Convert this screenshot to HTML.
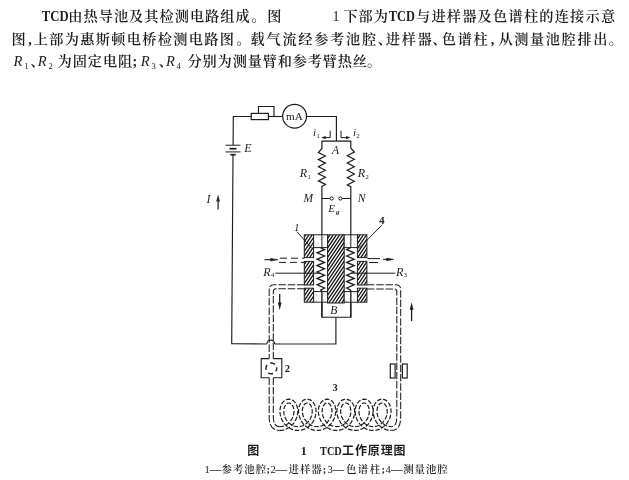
<!DOCTYPE html>
<html lang="zh-CN">
<head>
<meta charset="utf-8">
<title>TCD工作原理图</title>
<style>
html,body{margin:0;padding:0;background:#fff;}
body{width:629px;height:480px;overflow:hidden;position:relative;}
svg{position:absolute;left:0;top:0;display:block;filter:blur(0.45px);}
</style>
</head>
<body>
<svg width="629" height="480" viewBox="0 0 629 480">
<rect width="629" height="480" fill="#ffffff"/>
<g class="txt" fill="#1c1c1c">
<text x="41.8" y="21.0" font-size="13.6" font-family='"Liberation Serif", "Noto Serif CJK SC", serif' font-weight="700" textLength="26.8" lengthAdjust="spacingAndGlyphs">TCD</text>
<text y="21.0" x="68.3 83.5 98.7 113.9 129.1 144.3 159.5 174.7 189.9 205.1 220.3 235.5" font-size="14.2" font-family='"Liberation Serif", "Noto Serif CJK SC", serif' font-weight="600">由热导池及其检测电路组成</text>
<text y="21.0" x="251.6" font-size="14.2" font-family='"Liberation Serif", "Noto Serif CJK SC", serif' font-weight="600">。</text>
<text y="21.0" x="267.2" font-size="14.2" font-family='"Liberation Serif", "Noto Serif CJK SC", serif' font-weight="600">图</text>
<text x="332.6" y="21.0" font-size="14" font-family='"Liberation Serif", "Noto Serif CJK SC", serif' font-weight="400">1</text>
<text y="21.0" x="343.4 358.6 373.8" font-size="14.2" font-family='"Liberation Serif", "Noto Serif CJK SC", serif' font-weight="600">下部为</text>
<text x="388.8" y="21.0" font-size="13.6" font-family='"Liberation Serif", "Noto Serif CJK SC", serif' font-weight="700" textLength="26.2" lengthAdjust="spacingAndGlyphs">TCD</text>
<text y="21.0" x="416.0 431.4 446.8 462.2 477.6 493.1 508.5 523.9 539.3 554.7 570.1 585.5 600.9" font-size="14.2" font-family='"Liberation Serif", "Noto Serif CJK SC", serif' font-weight="600">与进样器及色谱柱的连接示意</text>
<text y="44.0" x="11.5" font-size="14.2" font-family='"Liberation Serif", "Noto Serif CJK SC", serif' font-weight="600">图</text>
<text y="44.0" x="28.2" font-size="14.2" font-family='"Liberation Serif", "Noto Serif CJK SC", serif' font-weight="600">,</text>
<text y="44.0" x="33.8 49.3 64.8 80.3 95.8 111.3 126.8 142.3 157.8 173.3 188.8 204.3 219.8" font-size="14.2" font-family='"Liberation Serif", "Noto Serif CJK SC", serif' font-weight="600">上部为惠斯顿电桥检测电路图</text>
<text y="44.0" x="236.4" font-size="14.2" font-family='"Liberation Serif", "Noto Serif CJK SC", serif' font-weight="600">。</text>
<text y="44.0" x="250.6 266.5 282.4 298.3 314.2 330.1 346.0 361.9" font-size="14.2" font-family='"Liberation Serif", "Noto Serif CJK SC", serif' font-weight="600">载气流经参考池腔</text>
<text y="44.0" x="377.8" font-size="14.2" font-family='"Liberation Serif", "Noto Serif CJK SC", serif' font-weight="600">、</text>
<text y="44.0" x="385.8 401.7 417.6" font-size="14.2" font-family='"Liberation Serif", "Noto Serif CJK SC", serif' font-weight="600">进样器</text>
<text y="44.0" x="432.4" font-size="14.2" font-family='"Liberation Serif", "Noto Serif CJK SC", serif' font-weight="600">、</text>
<text y="44.0" x="441.8 457.7 473.6" font-size="14.2" font-family='"Liberation Serif", "Noto Serif CJK SC", serif' font-weight="600">色谱柱</text>
<text y="44.0" x="490.8" font-size="14.2" font-family='"Liberation Serif", "Noto Serif CJK SC", serif' font-weight="600">,</text>
<text y="44.0" x="498.4 514.2 530.0 545.8 561.6 577.4 593.2" font-size="14.2" font-family='"Liberation Serif", "Noto Serif CJK SC", serif' font-weight="600">从测量池腔排出</text>
<text y="44.0" x="608.8" font-size="14.2" font-family='"Liberation Serif", "Noto Serif CJK SC", serif' font-weight="600">。</text>
</g>
<g class="dia" stroke="#1e1e1e" fill="none" stroke-linecap="butt" stroke-linejoin="miter">
<polyline points="251.2,116.5 233.3,116.5 233.1,145.0" stroke-width="1.15" fill="none" />
<line x1="225.5" y1="145.2" x2="240.5" y2="145.2" stroke-width="1.0" />
<line x1="229.5" y1="148.7" x2="236.5" y2="148.7" stroke-width="1.7" />
<line x1="225.5" y1="151.9" x2="240.5" y2="151.9" stroke-width="1.0" />
<line x1="230.3" y1="154.7" x2="235.7" y2="154.7" stroke-width="1.7" />
<polyline points="233.0,154.7 231.7,343.6 266.9,344.0" stroke-width="1.15" fill="none" />
<path d="M266.9 344.0 A3.9 3.9 0 0 1 274.7 344.0" stroke-width="1.15"/>
<polyline points="274.7,344.0 335.9,344.0 335.9,317.2" stroke-width="1.15" fill="none" />
<rect x="251.2" y="113.4" width="17.2" height="6.2" stroke-width="1.2" fill="#fff"/>
<polyline points="258.5,113.2 258.5,106.5 274.0,106.5 274.0,116.5" stroke-width="1.15" fill="none" />
<line x1="268.4" y1="116.5" x2="282.5" y2="116.5" stroke-width="1.15" />
<circle cx="294.6" cy="116.2" r="11.9" stroke-width="1.2"/>
<polyline points="306.6,116.5 336.4,116.5 336.4,141.1" stroke-width="1.15" fill="none" />
<line x1="321.7" y1="141.1" x2="351.2" y2="141.1" stroke-width="1.3" />
<polyline points="330.2,130.8 330.2,137.6 323.5,137.6" stroke-width="1.0" fill="none" />
<path d="M321.3 137.6 L325.6 136 L325.6 139.2 Z" fill="#1e1e1e" stroke="none"/>
<polyline points="341.0,130.8 341.0,137.6 348.0,137.6" stroke-width="1.0" fill="none" />
<path d="M350.4 137.6 L346.1 136 L346.1 139.2 Z" fill="#1e1e1e" stroke="none"/>
<polyline points="321.9,141.1 321.9,148.5 318.4,152.5 325.4,156.0 318.4,159.6 325.4,163.1 318.4,166.7 325.4,170.2 318.4,173.8 325.4,177.3 318.4,180.9 325.4,184.4 321.9,186.4 321.9,248.0" stroke-width="1.2" fill="none" />
<polyline points="350.8,141.1 350.8,148.0 354.3,152.0 347.3,155.7 354.3,159.3 347.3,163.0 354.3,166.7 347.3,170.3 354.3,174.0 347.3,177.7 354.3,181.3 347.3,185.0 350.8,186.6 350.8,248.0" stroke-width="1.2" fill="none" />
<line x1="321.9" y1="198.5" x2="330.0" y2="198.5" stroke-width="1.0" />
<circle cx="331.7" cy="198.5" r="1.6" stroke-width="1.0"/>
<circle cx="340.4" cy="198.5" r="1.6" stroke-width="1.0"/>
<line x1="342.0" y1="198.5" x2="350.8" y2="198.5" stroke-width="1.0" />
<clipPath id="c1"><rect x="304.3" y="234.8" width="9.3" height="22.8"/></clipPath>
<rect x="304.3" y="234.8" width="9.3" height="22.8" fill="#fff" stroke="none"/>
<path d="M287.20 257.60L302.58 234.80M290.40 257.60L305.78 234.80M293.60 257.60L308.98 234.80M296.80 257.60L312.18 234.80M300.00 257.60L315.38 234.80M303.20 257.60L318.58 234.80M306.40 257.60L321.78 234.80M309.60 257.60L324.98 234.80M312.80 257.60L328.18 234.80" stroke="#151515" stroke-width="1.3" clip-path="url(#c1)"/>
<rect x="304.3" y="234.8" width="9.3" height="22.8" stroke-width="1.0"/>
<clipPath id="c2"><rect x="357.4" y="234.8" width="9.5" height="22.8"/></clipPath>
<rect x="357.4" y="234.8" width="9.5" height="22.8" fill="#fff" stroke="none"/>
<path d="M341.60 257.60L356.98 234.80M344.80 257.60L360.18 234.80M348.00 257.60L363.38 234.80M351.20 257.60L366.58 234.80M354.40 257.60L369.78 234.80M357.60 257.60L372.98 234.80M360.80 257.60L376.18 234.80M364.00 257.60L379.38 234.80" stroke="#151515" stroke-width="1.3" clip-path="url(#c2)"/>
<rect x="357.4" y="234.8" width="9.5" height="22.8" stroke-width="1.0"/>
<clipPath id="c3"><rect x="304.3" y="261.4" width="9.3" height="23.6"/></clipPath>
<rect x="304.3" y="261.4" width="9.3" height="23.6" fill="#fff" stroke="none"/>
<path d="M287.20 285.00L303.12 261.40M290.40 285.00L306.32 261.40M293.60 285.00L309.52 261.40M296.80 285.00L312.72 261.40M300.00 285.00L315.92 261.40M303.20 285.00L319.12 261.40M306.40 285.00L322.32 261.40M309.60 285.00L325.52 261.40M312.80 285.00L328.72 261.40" stroke="#151515" stroke-width="1.3" clip-path="url(#c3)"/>
<rect x="304.3" y="261.4" width="9.3" height="23.6" stroke-width="1.0"/>
<clipPath id="c4"><rect x="357.4" y="261.4" width="9.5" height="23.6"/></clipPath>
<rect x="357.4" y="261.4" width="9.5" height="23.6" fill="#fff" stroke="none"/>
<path d="M338.40 285.00L354.32 261.40M341.60 285.00L357.52 261.40M344.80 285.00L360.72 261.40M348.00 285.00L363.92 261.40M351.20 285.00L367.12 261.40M354.40 285.00L370.32 261.40M357.60 285.00L373.52 261.40M360.80 285.00L376.72 261.40M364.00 285.00L379.92 261.40" stroke="#151515" stroke-width="1.3" clip-path="url(#c4)"/>
<rect x="357.4" y="261.4" width="9.5" height="23.6" stroke-width="1.0"/>
<clipPath id="c5"><rect x="304.3" y="288.2" width="9.3" height="14.0"/></clipPath>
<rect x="304.3" y="288.2" width="9.3" height="14.0" fill="#fff" stroke="none"/>
<path d="M293.60 302.20L303.04 288.20M296.80 302.20L306.24 288.20M300.00 302.20L309.44 288.20M303.20 302.20L312.64 288.20M306.40 302.20L315.84 288.20M309.60 302.20L319.04 288.20M312.80 302.20L322.24 288.20" stroke="#151515" stroke-width="1.3" clip-path="url(#c5)"/>
<rect x="304.3" y="288.2" width="9.3" height="14.0" stroke-width="1.0"/>
<clipPath id="c6"><rect x="357.4" y="288.2" width="9.5" height="14.0"/></clipPath>
<rect x="357.4" y="288.2" width="9.5" height="14.0" fill="#fff" stroke="none"/>
<path d="M344.80 302.20L354.24 288.20M348.00 302.20L357.44 288.20M351.20 302.20L360.64 288.20M354.40 302.20L363.84 288.20M357.60 302.20L367.04 288.20M360.80 302.20L370.24 288.20M364.00 302.20L373.44 288.20" stroke="#151515" stroke-width="1.3" clip-path="url(#c6)"/>
<rect x="357.4" y="288.2" width="9.5" height="14.0" stroke-width="1.0"/>
<clipPath id="c7"><rect x="327.6" y="234.8" width="16.6" height="68.2"/></clipPath>
<rect x="327.6" y="234.8" width="16.6" height="68.2" fill="#fff" stroke="none"/>
<path d="M280.80 303.00L326.80 234.80M284.00 303.00L330.00 234.80M287.20 303.00L333.20 234.80M290.40 303.00L336.40 234.80M293.60 303.00L339.60 234.80M296.80 303.00L342.80 234.80M300.00 303.00L346.00 234.80M303.20 303.00L349.20 234.80M306.40 303.00L352.40 234.80M309.60 303.00L355.60 234.80M312.80 303.00L358.80 234.80M316.00 303.00L362.00 234.80M319.20 303.00L365.20 234.80M322.40 303.00L368.40 234.80M325.60 303.00L371.60 234.80M328.80 303.00L374.80 234.80M332.00 303.00L378.00 234.80M335.20 303.00L381.20 234.80M338.40 303.00L384.40 234.80M341.60 303.00L387.60 234.80" stroke="#151515" stroke-width="1.3" clip-path="url(#c7)"/>
<rect x="327.6" y="234.8" width="16.6" height="68.2" stroke-width="1.0"/>
<rect x="313.6" y="234.8" width="14.0" height="12.8" fill="#fff" stroke-width="1.0"/>
<rect x="313.6" y="291.6" width="14.0" height="10.6" fill="#fff" stroke-width="1.0"/>
<circle cx="316.6" cy="237.8" r="0.45" fill="#777" stroke="none"/>
<circle cx="316.6" cy="294.2" r="0.45" fill="#777" stroke="none"/>
<circle cx="321.1" cy="239.8" r="0.45" fill="#777" stroke="none"/>
<circle cx="321.1" cy="295.9" r="0.45" fill="#777" stroke="none"/>
<circle cx="324.1" cy="237.3" r="0.45" fill="#777" stroke="none"/>
<circle cx="324.1" cy="293.7" r="0.45" fill="#777" stroke="none"/>
<circle cx="318.6" cy="243.3" r="0.45" fill="#777" stroke="none"/>
<circle cx="318.6" cy="298.8" r="0.45" fill="#777" stroke="none"/>
<circle cx="323.6" cy="244.3" r="0.45" fill="#777" stroke="none"/>
<circle cx="323.6" cy="299.7" r="0.45" fill="#777" stroke="none"/>
<circle cx="316.1" cy="245.3" r="0.45" fill="#777" stroke="none"/>
<circle cx="316.1" cy="300.5" r="0.45" fill="#777" stroke="none"/>
<rect x="344.2" y="234.8" width="13.2" height="12.8" fill="#fff" stroke-width="1.0"/>
<rect x="344.2" y="291.6" width="13.2" height="10.6" fill="#fff" stroke-width="1.0"/>
<circle cx="347.2" cy="237.8" r="0.45" fill="#777" stroke="none"/>
<circle cx="347.2" cy="294.2" r="0.45" fill="#777" stroke="none"/>
<circle cx="351.7" cy="239.8" r="0.45" fill="#777" stroke="none"/>
<circle cx="351.7" cy="295.9" r="0.45" fill="#777" stroke="none"/>
<circle cx="354.7" cy="237.3" r="0.45" fill="#777" stroke="none"/>
<circle cx="354.7" cy="293.7" r="0.45" fill="#777" stroke="none"/>
<circle cx="349.2" cy="243.3" r="0.45" fill="#777" stroke="none"/>
<circle cx="349.2" cy="298.8" r="0.45" fill="#777" stroke="none"/>
<circle cx="354.2" cy="244.3" r="0.45" fill="#777" stroke="none"/>
<circle cx="354.2" cy="299.7" r="0.45" fill="#777" stroke="none"/>
<circle cx="346.7" cy="245.3" r="0.45" fill="#777" stroke="none"/>
<circle cx="346.7" cy="300.5" r="0.45" fill="#777" stroke="none"/>
<line x1="321.9" y1="234.0" x2="321.9" y2="248.0" stroke-width="1.0" />
<line x1="350.8" y1="234.0" x2="350.8" y2="248.0" stroke-width="1.0" />
<polyline points="320.8,247.6 324.5,249.6 317.1,252.8 324.5,256.0 317.1,259.2 324.5,262.4 317.1,265.6 324.5,268.8 317.1,272.0 324.5,275.2 317.1,278.4 324.5,281.6 317.1,284.8 324.5,288.0 320.8,290.0 321.9,291.6 321.9,317.2" stroke-width="1.35" fill="none" />
<polyline points="350.4,247.6 346.7,249.6 354.1,252.8 346.7,256.0 354.1,259.2 346.7,262.4 354.1,265.6 346.7,268.8 354.1,272.0 346.7,275.2 354.1,278.4 346.7,281.6 354.1,284.8 346.7,288.0 350.4,290.0 350.8,291.6 350.8,317.2" stroke-width="1.35" fill="none" />
<polyline points="321.9,302.2 321.9,317.2 350.8,317.2 350.8,302.2" stroke-width="1.15" fill="none" />
<line x1="296.9" y1="231.7" x2="312.0" y2="248.6" stroke-width="1.0" />
<line x1="381.7" y1="225.3" x2="358.8" y2="248.6" stroke-width="1.0" />
<line x1="275.4" y1="273.2" x2="320.5" y2="273.2" stroke-width="1.0" />
<line x1="351.0" y1="273.2" x2="395.2" y2="273.2" stroke-width="1.0" />
<line x1="280.0" y1="258.2" x2="304.3" y2="258.2" stroke-width="1.0" stroke-dasharray="7 4"/>
<line x1="279.0" y1="262.4" x2="304.3" y2="262.4" stroke-width="1.0" stroke-dasharray="7 4"/>
<line x1="264.4" y1="259.7" x2="272.0" y2="259.7" stroke-width="1.1" />
<path d="M278.0 259.7 L270.6 258.4 L270.6 261.0 Z" fill="#1e1e1e" stroke="#1e1e1e" stroke-width="0.6" stroke-linejoin="round"/>
<line x1="367.5" y1="258.6" x2="381.0" y2="258.6" stroke-width="1.0" stroke-dasharray="12.5 4"/>
<line x1="369.0" y1="262.5" x2="378.0" y2="262.5" stroke-width="1.0" />
<line x1="383.0" y1="259.4" x2="388.0" y2="259.4" stroke-width="1.1" />
<path d="M393.6 259.4 L386.6 258.1 L386.6 260.7 Z" fill="#1e1e1e" stroke="#1e1e1e" stroke-width="0.6" stroke-linejoin="round"/>
<path d="M304.5 284.8 H274 Q269.2 284.8 269.2 290 V358.6" stroke-width="1.05" stroke-dasharray="7.5 1.8"/>
<path d="M304.5 288.8 H276 Q273.3 288.8 273.3 292 V358.6" stroke-width="1.05" stroke-dasharray="7.5 1.8"/>
<path d="M366.9 284.8 H396 Q400.7 284.8 400.7 290 V418 Q400.5 430.4 391.3 430.4" stroke-width="1.05" stroke-dasharray="7.5 1.8"/>
<path d="M366.9 289.0 H394.5 Q396.8 289.0 396.8 292 V417 Q396.7 426.6 391.3 426.6" stroke-width="1.05" stroke-dasharray="7.5 1.8"/>
<line x1="279.7" y1="294.0" x2="279.7" y2="304.0" stroke-width="1.3" />
<path d="M279.7 310 L277.8 302.6 L281.6 302.6 Z" fill="#1e1e1e" stroke="none"/>
<line x1="411.6" y1="308.0" x2="411.6" y2="321.0" stroke-width="1.3" />
<path d="M411.6 302.4 L409.7 309.8 L413.5 309.8 Z" fill="#1e1e1e" stroke="none"/>
<polyline points="269.2,358.6 261.2,358.6 261.2,377.7 269.2,377.7" stroke-width="1.1" fill="none" />
<polyline points="273.3,358.6 281.8,358.6 281.8,377.7 273.3,377.7" stroke-width="1.1" fill="none" />
<circle cx="271.3" cy="368.4" r="5.4" stroke-width="1.4" stroke-dasharray="5.2 3.3" stroke-dashoffset="2"/>
<path d="M269.2 377.7 V418 Q269.4 430.4 279.7 430.4" stroke-width="1.05" stroke-dasharray="7.5 1.8"/>
<path d="M273.3 377.7 V417 Q273.4 426.6 279.7 426.6" stroke-width="1.05" stroke-dasharray="7.5 1.8"/>
<path d="M279.7 430.4L281.4 430.3L283.0 430.1L284.6 429.6L286.2 429.1L287.7 428.3L289.2 427.5L290.5 426.5L291.8 425.3L293.0 424.1L294.0 422.8L294.9 421.3L295.7 419.9L296.4 418.3L297.0 416.8L297.4 415.2L297.6 413.6L297.8 412.0L297.8 410.5L297.6 409.0L297.4 407.5L297.0 406.2L296.5 404.9L295.9 403.7L295.2 402.6L294.3 401.6L293.4 400.8L292.4 400.1L291.3 399.6L290.1 399.3L288.9 399.2L287.7 399.3L286.5 399.6L285.4 400.1L284.4 400.8L283.5 401.6L282.6 402.6L281.9 403.7L281.3 404.9L280.8 406.1L280.4 407.5L280.1 409.0L280.0 410.5L280.0 412.0L280.1 413.6L280.4 415.2L280.8 416.8L281.3 418.3L282.0 419.9L282.8 421.3L283.7 422.8L284.8 424.1L285.9 425.3L287.2 426.5L288.5 427.5L290.0 428.3L291.5 429.1L293.1 429.6L294.7 430.1L296.3 430.3L298.0 430.4L299.7 430.3L301.3 430.1L302.9 429.6L304.5 429.1L306.0 428.3L307.5 427.5L308.8 426.5L310.1 425.3L311.2 424.1L312.3 422.8L313.2 421.3L314.0 419.9L314.7 418.3L315.2 416.8L315.6 415.2L315.9 413.6L316.0 412.0L316.0 410.5L315.9 409.0L315.6 407.5L315.2 406.1L314.7 404.9L314.1 403.7L313.4 402.6L312.5 401.6L311.6 400.8L310.6 400.1L309.5 399.6L308.3 399.3L307.1 399.2L305.9 399.3L304.8 399.6L303.7 400.1L302.7 400.8L301.8 401.6L301.0 402.6L300.3 403.7L299.7 404.9L299.2 406.2L298.9 407.6L298.7 409.0L298.6 410.5L298.6 412.1L298.8 413.6L299.1 415.2L299.5 416.8L300.1 418.4L300.8 419.9L301.6 421.4L302.6 422.8L303.6 424.1L304.8 425.3L306.1 426.5L307.5 427.5L309.0 428.3L310.5 429.1L312.1 429.6L313.8 430.1L315.5 430.3L317.1 430.4L318.8 430.3L320.5 430.1L322.2 429.6L323.8 429.1L325.3 428.3L326.8 427.5L328.2 426.5L329.5 425.3L330.7 424.1L331.7 422.8L332.7 421.4L333.5 419.9L334.2 418.4L334.8 416.8L335.2 415.2L335.5 413.6L335.7 412.1L335.7 410.5L335.6 409.0L335.4 407.6L335.1 406.2L334.6 404.9L334.0 403.7L333.3 402.6L332.5 401.6L331.6 400.8L330.6 400.1L329.5 399.6L328.4 399.3L327.2 399.2L326.0 399.3L324.9 399.6L323.8 400.1L322.7 400.8L321.8 401.6L321.0 402.6L320.2 403.7L319.6 404.9L319.1 406.2L318.7 407.5L318.5 409.0L318.4 410.5L318.4 412.0L318.5 413.6L318.8 415.2L319.2 416.8L319.7 418.3L320.4 419.9L321.2 421.4L322.2 422.8L323.2 424.1L324.4 425.3L325.6 426.5L327.0 427.5L328.4 428.3L330.0 429.1L331.5 429.6L333.2 430.1L334.8 430.3L336.5 430.4L338.2 430.3L339.8 430.1L341.5 429.6L343.0 429.1L344.6 428.3L346.0 427.5L347.4 426.5L348.6 425.3L349.8 424.1L350.8 422.8L351.8 421.4L352.6 419.9L353.3 418.3L353.8 416.8L354.2 415.2L354.5 413.6L354.6 412.0L354.6 410.5L354.5 409.0L354.3 407.5L353.9 406.2L353.4 404.9L352.8 403.7L352.0 402.6L351.2 401.6L350.3 400.8L349.2 400.1L348.1 399.6L347.0 399.3L345.8 399.2L344.6 399.3L343.4 399.6L342.3 400.1L341.3 400.8L340.4 401.6L339.5 402.6L338.8 403.7L338.2 404.9L337.7 406.2L337.3 407.5L337.1 409.0L336.9 410.5L336.9 412.0L337.1 413.6L337.3 415.2L337.7 416.8L338.3 418.3L339.0 419.9L339.8 421.3L340.7 422.8L341.7 424.1L342.9 425.3L344.2 426.5L345.5 427.5L347.0 428.3L348.5 429.1L350.1 429.6L351.7 430.1L353.3 430.3L355.0 430.4L356.7 430.3L358.3 430.1L359.9 429.6L361.5 429.1L363.0 428.3L364.5 427.5L365.8 426.5L367.1 425.3L368.3 424.1L369.3 422.8L370.2 421.3L371.0 419.9L371.7 418.3L372.3 416.8L372.7 415.2L372.9 413.6L373.1 412.0L373.1 410.5L372.9 409.0L372.7 407.5L372.3 406.2L371.8 404.9L371.2 403.7L370.5 402.6L369.6 401.6L368.7 400.8L367.7 400.1L366.6 399.6L365.4 399.3L364.2 399.2L363.0 399.3L361.8 399.6L360.7 400.1L359.7 400.8L358.7 401.6L357.9 402.6L357.2 403.6L356.5 404.8L356.0 406.1L355.6 407.5L355.3 409.0L355.2 410.5L355.2 412.0L355.3 413.6L355.6 415.2L356.0 416.8L356.5 418.3L357.2 419.9L358.0 421.3L358.9 422.8L359.9 424.1L361.1 425.3L362.3 426.4L363.7 427.5L365.1 428.3L366.6 429.1L368.2 429.6L369.8 430.1L371.4 430.3L373.1 430.4L374.8 430.3L376.4 430.1L378.0 429.6L379.6 429.1L381.1 428.3L382.5 427.5L383.9 426.4L385.1 425.3L386.3 424.1L387.3 422.8L388.2 421.3L389.0 419.9L389.7 418.3L390.2 416.8L390.6 415.2L390.9 413.6L391.0 412.0L391.0 410.5L390.9 409.0L390.6 407.5L390.2 406.1L389.7 404.8L389.0 403.6L388.3 402.6L387.5 401.6L386.5 400.8L385.5 400.1L384.4 399.6L383.2 399.3L382.0 399.2L380.8 399.3L379.7 399.6L378.6 400.1L377.5 400.8L376.6 401.6L375.8 402.6L375.0 403.7L374.4 404.9L373.9 406.2L373.5 407.5L373.3 409.0L373.2 410.5L373.2 412.0L373.3 413.6L373.6 415.2L374.0 416.8L374.5 418.3L375.2 419.9L376.0 421.4L377.0 422.8L378.0 424.1L379.2 425.3L380.4 426.5L381.8 427.5L383.2 428.3L384.8 429.1L386.3 429.6L388.0 430.1L389.6 430.3L391.3 430.4" stroke-width="1.2" stroke-dasharray="4.6 1.7"/>
<path d="M279.7 426.6L281.0 426.5L282.3 426.3L283.5 426.0L284.7 425.6L285.9 425.0L287.1 424.3L288.1 423.5L289.1 422.6L290.1 421.6L290.9 420.5L291.7 419.4L292.3 418.2L292.9 417.0L293.3 415.7L293.6 414.4L293.9 413.1L294.0 411.9L294.0 410.6L293.9 409.5L293.7 408.4L293.4 407.3L293.0 406.4L292.6 405.6L292.1 404.9L291.6 404.3L291.1 403.8L290.5 403.4L290.0 403.2L289.4 403.0L288.9 403.0L288.4 403.0L287.8 403.2L287.3 403.4L286.7 403.8L286.2 404.3L285.6 404.9L285.2 405.6L284.7 406.4L284.4 407.3L284.1 408.4L283.9 409.5L283.8 410.6L283.8 411.9L283.9 413.1L284.1 414.4L284.4 415.7L284.9 417.0L285.4 418.2L286.1 419.4L286.8 420.5L287.7 421.6L288.6 422.6L289.6 423.5L290.7 424.3L291.8 425.0L293.0 425.6L294.2 426.0L295.4 426.3L296.7 426.5L298.0 426.6L299.3 426.5L300.6 426.3L301.8 426.0L303.0 425.6L304.2 425.0L305.3 424.3L306.4 423.5L307.4 422.6L308.3 421.6L309.2 420.5L309.9 419.4L310.6 418.2L311.1 417.0L311.6 415.7L311.9 414.4L312.1 413.1L312.2 411.9L312.2 410.6L312.1 409.5L311.9 408.4L311.6 407.3L311.3 406.4L310.8 405.6L310.4 404.9L309.8 404.3L309.3 403.8L308.7 403.4L308.2 403.2L307.6 403.0L307.1 403.0L306.6 403.0L306.1 403.2L305.6 403.4L305.1 403.8L304.6 404.2L304.1 404.8L303.6 405.5L303.2 406.4L302.9 407.3L302.6 408.3L302.4 409.4L302.4 410.6L302.4 411.8L302.5 413.1L302.8 414.4L303.1 415.7L303.6 416.9L304.2 418.2L304.8 419.4L305.6 420.5L306.5 421.6L307.5 422.6L308.5 423.5L309.6 424.3L310.8 425.0L312.0 425.6L313.2 426.0L314.5 426.3L315.8 426.5L317.1 426.6L318.5 426.5L319.8 426.3L321.1 426.0L322.3 425.6L323.5 425.0L324.7 424.3L325.8 423.5L326.8 422.6L327.8 421.6L328.7 420.5L329.5 419.4L330.1 418.2L330.7 416.9L331.2 415.7L331.5 414.4L331.8 413.1L331.9 411.8L331.9 410.6L331.9 409.4L331.7 408.3L331.4 407.3L331.1 406.4L330.7 405.5L330.2 404.8L329.7 404.2L329.2 403.8L328.7 403.4L328.2 403.2L327.7 403.0L327.2 403.0L326.7 403.0L326.1 403.2L325.6 403.4L325.0 403.8L324.5 404.3L324.0 404.9L323.5 405.6L323.1 406.4L322.7 407.3L322.5 408.4L322.3 409.5L322.2 410.6L322.2 411.9L322.3 413.1L322.5 414.4L322.8 415.7L323.3 417.0L323.8 418.2L324.5 419.4L325.2 420.5L326.1 421.6L327.0 422.6L328.0 423.5L329.1 424.3L330.3 425.0L331.4 425.6L332.7 426.0L333.9 426.3L335.2 426.5L336.5 426.6L337.8 426.5L339.1 426.3L340.3 426.0L341.6 425.6L342.7 425.0L343.9 424.3L345.0 423.5L346.0 422.6L346.9 421.6L347.8 420.5L348.5 419.4L349.2 418.2L349.7 417.0L350.2 415.7L350.5 414.4L350.7 413.1L350.8 411.9L350.8 410.6L350.7 409.5L350.5 408.4L350.3 407.3L349.9 406.4L349.5 405.6L349.0 404.9L348.5 404.3L348.0 403.8L347.4 403.4L346.9 403.2L346.3 403.0L345.8 403.0L345.3 403.0L344.7 403.2L344.2 403.4L343.6 403.8L343.1 404.3L342.6 404.9L342.1 405.6L341.7 406.4L341.3 407.3L341.0 408.4L340.8 409.5L340.7 410.6L340.7 411.9L340.8 413.1L341.1 414.4L341.4 415.7L341.8 417.0L342.4 418.2L343.0 419.4L343.8 420.5L344.6 421.6L345.6 422.6L346.6 423.5L347.6 424.3L348.8 425.0L350.0 425.6L351.2 426.0L352.4 426.3L353.7 426.5L355.0 426.6L356.3 426.5L357.6 426.3L358.8 426.0L360.0 425.6L361.2 425.0L362.4 424.3L363.4 423.5L364.4 422.6L365.4 421.6L366.2 420.5L367.0 419.4L367.6 418.2L368.2 417.0L368.6 415.7L368.9 414.4L369.2 413.1L369.3 411.9L369.3 410.6L369.2 409.5L369.0 408.4L368.7 407.3L368.3 406.4L367.9 405.6L367.4 404.9L366.9 404.3L366.4 403.8L365.8 403.4L365.3 403.2L364.7 403.0L364.2 403.0L363.6 403.0L363.1 403.2L362.5 403.4L362.0 403.8L361.4 404.3L360.9 404.9L360.4 405.6L360.0 406.4L359.6 407.4L359.3 408.4L359.1 409.5L359.0 410.7L359.0 411.9L359.1 413.1L359.3 414.4L359.6 415.7L360.1 417.0L360.6 418.2L361.2 419.4L362.0 420.5L362.8 421.6L363.7 422.6L364.7 423.5L365.8 424.3L366.9 425.0L368.1 425.6L369.3 426.0L370.6 426.3L371.8 426.5L373.1 426.6L374.4 426.5L375.6 426.3L376.9 426.0L378.1 425.6L379.3 425.0L380.4 424.3L381.5 423.5L382.5 422.6L383.4 421.6L384.2 420.5L385.0 419.4L385.6 418.2L386.1 417.0L386.6 415.7L386.9 414.4L387.1 413.1L387.2 411.9L387.2 410.7L387.1 409.5L386.9 408.4L386.6 407.4L386.2 406.4L385.8 405.6L385.3 404.9L384.8 404.3L384.2 403.8L383.7 403.4L383.1 403.2L382.6 403.0L382.0 403.0L381.5 403.0L380.9 403.2L380.4 403.4L379.8 403.8L379.3 404.3L378.8 404.9L378.3 405.6L377.9 406.4L377.5 407.3L377.3 408.4L377.1 409.5L377.0 410.6L377.0 411.9L377.1 413.1L377.3 414.4L377.6 415.7L378.1 417.0L378.6 418.2L379.3 419.4L380.0 420.5L380.9 421.6L381.8 422.6L382.8 423.5L383.9 424.3L385.1 425.0L386.2 425.6L387.5 426.0L388.7 426.3L390.0 426.5L391.3 426.6" stroke-width="1.2" stroke-dasharray="4.6 1.7"/>
<rect x="390.3" y="364" width="4.8" height="14" stroke-width="1.2" fill="#fff"/>
<rect x="402.4" y="364" width="4.8" height="14" stroke-width="1.2" fill="#fff"/>
</g>
<g class="lbl" fill="#222">
<text x="294.4" y="120.0" font-size="11.2" font-family='"Liberation Serif", "Noto Serif CJK SC", serif' font-weight="400" text-anchor="middle"  >mA</text>
<text x="244.3" y="151.6" font-size="12" font-family='"Liberation Serif", "Noto Serif CJK SC", serif' font-weight="400" text-anchor="start" font-style="italic" >E</text>
<text x="206.5" y="203.0" font-size="12" font-family='"Liberation Serif", "Noto Serif CJK SC", serif' font-weight="400" text-anchor="start" font-style="italic" >I</text>
<text x="313.0" y="136.0" font-size="11" font-family='"Liberation Serif", "Noto Serif CJK SC", serif' font-weight="400" text-anchor="start" font-style="italic" >i</text>
<text x="316.4" y="138.0" font-size="6.5" font-family='"Liberation Serif", "Noto Serif CJK SC", serif' font-weight="400" text-anchor="start"  >1</text>
<text x="353.0" y="136.0" font-size="11" font-family='"Liberation Serif", "Noto Serif CJK SC", serif' font-weight="400" text-anchor="start" font-style="italic" >i</text>
<text x="356.4" y="138.0" font-size="6.5" font-family='"Liberation Serif", "Noto Serif CJK SC", serif' font-weight="400" text-anchor="start"  >2</text>
<text x="332.0" y="153.8" font-size="11.5" font-family='"Liberation Serif", "Noto Serif CJK SC", serif' font-weight="400" text-anchor="start" font-style="italic" >A</text>
<text x="299.8" y="177.4" font-size="12" font-family='"Liberation Serif", "Noto Serif CJK SC", serif' font-weight="400" text-anchor="start" font-style="italic" >R</text>
<text x="307.4" y="179.0" font-size="6.5" font-family='"Liberation Serif", "Noto Serif CJK SC", serif' font-weight="400" text-anchor="start"  >1</text>
<text x="357.8" y="177.4" font-size="12" font-family='"Liberation Serif", "Noto Serif CJK SC", serif' font-weight="400" text-anchor="start" font-style="italic" >R</text>
<text x="365.4" y="179.0" font-size="6.5" font-family='"Liberation Serif", "Noto Serif CJK SC", serif' font-weight="400" text-anchor="start"  >2</text>
<text x="303.5" y="202.2" font-size="11.5" font-family='"Liberation Serif", "Noto Serif CJK SC", serif' font-weight="400" text-anchor="start" font-style="italic" >M</text>
<text x="357.8" y="202.2" font-size="11.5" font-family='"Liberation Serif", "Noto Serif CJK SC", serif' font-weight="400" text-anchor="start" font-style="italic" >N</text>
<text x="328.3" y="211.6" font-size="11" font-family='"Liberation Serif", "Noto Serif CJK SC", serif' font-weight="400" text-anchor="start" font-style="italic" >E</text>
<text x="336.0" y="214.0" font-size="7" font-family='"Liberation Serif", "Noto Serif CJK SC", serif' font-weight="700" text-anchor="start" font-style="italic" >g</text>
<text x="294.0" y="231.4" font-size="11" font-family='"Liberation Serif", "Noto Serif CJK SC", serif' font-weight="400" text-anchor="start" font-style="italic" >1</text>
<text x="379.2" y="223.8" font-size="10.5" font-family='"Liberation Serif", "Noto Serif CJK SC", serif' font-weight="700" text-anchor="start"  >4</text>
<text x="263.3" y="275.6" font-size="12" font-family='"Liberation Serif", "Noto Serif CJK SC", serif' font-weight="400" text-anchor="start" font-style="italic" >R</text>
<text x="271.0" y="277.4" font-size="6.5" font-family='"Liberation Serif", "Noto Serif CJK SC", serif' font-weight="400" text-anchor="start"  >4</text>
<text x="396.0" y="275.6" font-size="12" font-family='"Liberation Serif", "Noto Serif CJK SC", serif' font-weight="400" text-anchor="start" font-style="italic" >R</text>
<text x="403.8" y="277.4" font-size="6.5" font-family='"Liberation Serif", "Noto Serif CJK SC", serif' font-weight="400" text-anchor="start"  >3</text>
<text x="330.3" y="313.8" font-size="11.5" font-family='"Liberation Serif", "Noto Serif CJK SC", serif' font-weight="400" text-anchor="start" font-style="italic" >B</text>
<text x="284.8" y="372.2" font-size="10.5" font-family='"Liberation Serif", "Noto Serif CJK SC", serif' font-weight="700" text-anchor="start"  >2</text>
<text x="332.5" y="391.0" font-size="10.5" font-family='"Liberation Serif", "Noto Serif CJK SC", serif' font-weight="700" text-anchor="start"  >3</text>
</g>
<g stroke="#2a2a2a" fill="#2a2a2a"><line x1="218.1" y1="199" x2="218.1" y2="209.6" stroke-width="1.3"/><path d="M218.1 194.6 L216.2 201.6 L220 201.6 Z" stroke="none"/></g>
<g class="txt" fill="#1c1c1c">
<text x="13.6" y="66.4" font-size="14.6" font-family='"Liberation Serif", "Noto Serif CJK SC", serif' font-style="italic" font-weight="400">R</text>
<text x="24.2" y="69.0" font-size="8.6" font-family='"Liberation Serif", "Noto Serif CJK SC", serif' font-weight="400">1</text>
<text y="66.4" x="30.6" font-size="14.2" font-family='"Liberation Serif", "Noto Serif CJK SC", serif' font-weight="600">、</text>
<text x="37.8" y="66.4" font-size="14.6" font-family='"Liberation Serif", "Noto Serif CJK SC", serif' font-style="italic" font-weight="400">R</text>
<text x="48.4" y="69.0" font-size="8.6" font-family='"Liberation Serif", "Noto Serif CJK SC", serif' font-weight="400">2</text>
<text y="66.4" x="57.6 72.7 87.8 102.9 118.0" font-size="14.2" font-family='"Liberation Serif", "Noto Serif CJK SC", serif' font-weight="600">为固定电阻</text>
<text y="66.4" x="132.4" font-size="14.2" font-family='"Liberation Serif", "Noto Serif CJK SC", serif' font-weight="600">;</text>
<text x="140.8" y="66.4" font-size="14.6" font-family='"Liberation Serif", "Noto Serif CJK SC", serif' font-style="italic" font-weight="400">R</text>
<text x="151.4" y="69.0" font-size="8.6" font-family='"Liberation Serif", "Noto Serif CJK SC", serif' font-weight="400">3</text>
<text y="66.4" x="158.8" font-size="14.2" font-family='"Liberation Serif", "Noto Serif CJK SC", serif' font-weight="600">、</text>
<text x="166.0" y="66.4" font-size="14.6" font-family='"Liberation Serif", "Noto Serif CJK SC", serif' font-style="italic" font-weight="400">R</text>
<text x="176.6" y="69.0" font-size="8.6" font-family='"Liberation Serif", "Noto Serif CJK SC", serif' font-weight="400">4</text>
<text y="66.4" x="187.6 202.6 217.6 232.7 247.7 262.7 277.7 292.7 307.8 322.8 337.8 352.8" font-size="14.2" font-family='"Liberation Serif", "Noto Serif CJK SC", serif' font-weight="600">分别为测量臂和参考臂热丝</text>
<text y="66.4" x="367.0" font-size="14.2" font-family='"Liberation Serif", "Noto Serif CJK SC", serif' font-weight="600">。</text>
</g>
<g class="cap" fill="#1c1c1c">
<text x="247.2" y="454.5" font-size="12" font-family='"Liberation Sans", "Noto Sans CJK SC", sans-serif' font-weight="700">图</text>
<text x="300.8" y="454.5" font-size="12" font-family='"Liberation Serif", "Noto Serif CJK SC", serif' font-weight="700">1</text>
<text x="320" y="454.5" font-size="12" font-family='"Liberation Serif", "Noto Serif CJK SC", serif' font-weight="700" textLength="21.8" lengthAdjust="spacingAndGlyphs">TCD</text>
<text y="454.5" x="342.0 354.9 367.8 380.7 393.6" font-size="12" font-family='"Liberation Sans", "Noto Sans CJK SC", sans-serif' font-weight="700">工作原理图</text>
<text x="204.6" y="473.1" font-size="10.6" font-family='"Liberation Serif", "Noto Serif CJK SC", serif' font-weight="400">1</text>
<text x="209.4" y="473.1" font-size="10.4" font-family='"Liberation Serif", "Noto Serif CJK SC", serif' font-weight="700" textLength="11.6" lengthAdjust="spacingAndGlyphs">—</text>
<text y="473.1" x="221.6 233.0 244.3 255.7" font-size="10.4" font-family='"Liberation Serif", "Noto Serif CJK SC", serif' font-weight="600">参考池腔</text>
<text y="473.1" x="266.6" font-size="10.4" font-family='"Liberation Serif", "Noto Serif CJK SC", serif' font-weight="600">;</text>
<text x="270.6" y="473.1" font-size="10.6" font-family='"Liberation Serif", "Noto Serif CJK SC", serif' font-weight="400">2</text>
<text x="275.6" y="473.1" font-size="10.4" font-family='"Liberation Serif", "Noto Serif CJK SC", serif' font-weight="700" textLength="11.6" lengthAdjust="spacingAndGlyphs">—</text>
<text y="473.1" x="288.6 300.0 311.3" font-size="10.4" font-family='"Liberation Serif", "Noto Serif CJK SC", serif' font-weight="600">进样器</text>
<text y="473.1" x="322.8" font-size="10.4" font-family='"Liberation Serif", "Noto Serif CJK SC", serif' font-weight="600">;</text>
<text x="327.4" y="473.1" font-size="10.6" font-family='"Liberation Serif", "Noto Serif CJK SC", serif' font-weight="400">3</text>
<text x="332.6" y="473.1" font-size="10.4" font-family='"Liberation Serif", "Noto Serif CJK SC", serif' font-weight="700" textLength="11.6" lengthAdjust="spacingAndGlyphs">—</text>
<text y="473.1" x="345.9 357.8 369.7" font-size="10.4" font-family='"Liberation Serif", "Noto Serif CJK SC", serif' font-weight="600">色谱柱</text>
<text y="473.1" x="381.4" font-size="10.4" font-family='"Liberation Serif", "Noto Serif CJK SC", serif' font-weight="600">;</text>
<text x="385.6" y="473.1" font-size="10.6" font-family='"Liberation Serif", "Noto Serif CJK SC", serif' font-weight="400">4</text>
<text x="391.0" y="473.1" font-size="10.4" font-family='"Liberation Serif", "Noto Serif CJK SC", serif' font-weight="700" textLength="11.6" lengthAdjust="spacingAndGlyphs">—</text>
<text y="473.1" x="403.2 414.6 425.9 437.3" font-size="10.4" font-family='"Liberation Serif", "Noto Serif CJK SC", serif' font-weight="600">测量池腔</text>
</g>
</svg>
</body>
</html>
